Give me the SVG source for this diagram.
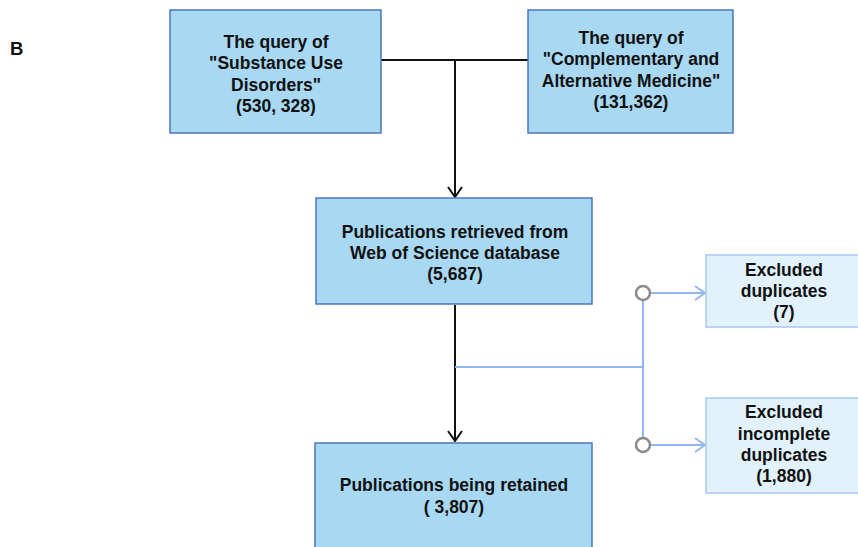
<svg xmlns="http://www.w3.org/2000/svg" width="858" height="547" viewBox="0 0 858 547">
<style>
.main{fill:#a8d8f2;stroke:#4a76c0;stroke-width:1.5}
.excl{fill:#e2f2fc;stroke:#a9c8ee;stroke-width:1.5}
text{font-family:"Liberation Sans",Arial,sans-serif;font-weight:bold;font-size:17.5px;fill:#111;text-anchor:middle}
.blk{stroke:#111;stroke-width:2;fill:none}
.blu{stroke:#92b6ee;stroke-width:2;fill:none}
.dot{fill:#fff;stroke:#8a8a8a;stroke-width:2.5}
</style>
<defs>
<marker id="ab" viewBox="0 0 12 16" refX="11" refY="8" markerWidth="12" markerHeight="16" markerUnits="userSpaceOnUse" orient="auto">
<path d="M1,1 L11,8 L1,15" fill="none" stroke="#111" stroke-width="2"/>
</marker>
<marker id="au" viewBox="0 0 12 16" refX="11" refY="8" markerWidth="12" markerHeight="16" markerUnits="userSpaceOnUse" orient="auto">
<path d="M1,1 L11,8 L1,15" fill="none" stroke="#92b6ee" stroke-width="2"/>
</marker>
</defs>
<text x="10" y="55" style="text-anchor:start;font-size:18.5px">B</text>
<g id="connectors">
<path class="blk" d="M381,60 H528"/>
<path class="blk" d="M455,60 V197" marker-end="url(#ab)"/>
<path class="blk" d="M455,305 V441" marker-end="url(#ab)"/>
<path class="blu" d="M455,367 H643"/>
<path class="blu" d="M643,293 V445"/>
<path class="blu" d="M650,293 H705" marker-end="url(#au)"/>
<path class="blu" d="M650,445 H705" marker-end="url(#au)"/>
<circle class="dot" cx="643" cy="293" r="7"/>
<circle class="dot" cx="643" cy="445" r="7"/>
</g>
<g id="node-sud">
<rect class="main" x="170" y="10" width="211" height="123"/>
<text x="276" y="48">The query of</text>
<text x="276" y="69">"Substance Use</text>
<text x="276" y="91">Disorders"</text>
<text x="276" y="112">(530, 328)</text>
</g>
<g id="node-cam">
<rect class="main" x="528" y="10" width="205" height="123"/>
<text x="631" y="44">The query of</text>
<text x="631" y="65">"Complementary and</text>
<text x="631" y="87">Alternative Medicine"</text>
<text x="631" y="108">(131,362)</text>
</g>
<g id="node-wos">
<rect class="main" x="316" y="198" width="276" height="106"/>
<text x="455" y="238">Publications retrieved from</text>
<text x="455" y="259">Web of Science database</text>
<text x="455" y="280">(5,687)</text>
</g>
<g id="node-dup">
<rect class="excl" x="706" y="255" width="160" height="72"/>
<text x="784" y="276">Excluded</text>
<text x="784" y="297">duplicates</text>
<text x="784" y="318">(7)</text>
</g>
<g id="node-incdup">
<rect class="excl" x="706" y="398" width="160" height="95"/>
<text x="784" y="418">Excluded</text>
<text x="784" y="440">incomplete</text>
<text x="784" y="461">duplicates</text>
<text x="784" y="482">(1,880)</text>
</g>
<g id="node-retained">
<rect class="main" x="315" y="443" width="277" height="110"/>
<text x="454" y="491">Publications being retained</text>
<text x="454" y="513">( 3,807)</text>
</g>
</svg>
